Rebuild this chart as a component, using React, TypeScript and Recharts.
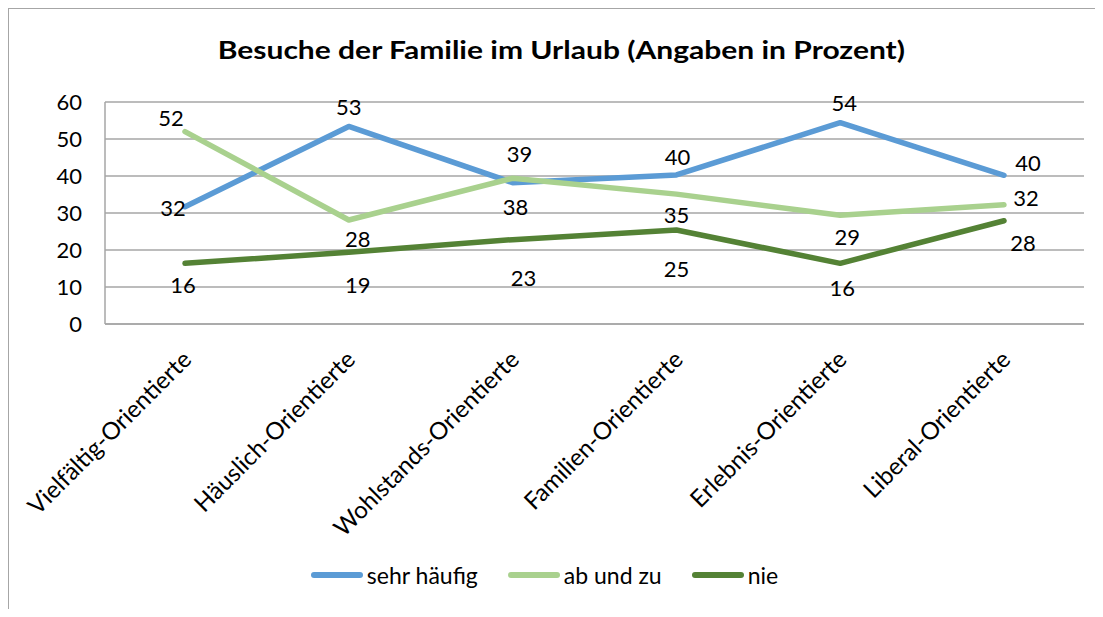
import { CartesianGrid, LabelList, Line, LineChart, XAxis, YAxis } from "recharts";

const categories = [
  "Vielfältig-Orientierte",
  "Häuslich-Orientierte",
  "Wohlstands-Orientierte",
  "Familien-Orientierte",
  "Erlebnis-Orientierte",
  "Liberal-Orientierte",
];
const sehrHaeufig = [31.7, 53.4, 38.2, 40.3, 54.4, 40.2];
const abUndZu = [52, 28.1, 39.4, 35.1, 29.4, 32.2];
const nie = [16.4, 19.4, 22.8, 25.4, 16.4, 27.9];
const yTicks = [0, 10, 20, 30, 40, 50, 60];

const COLORS = {
  sehr: "#5B9BD5",
  ab: "#A9D18E",
  nie: "#548235",
  grid: "#a6a6a6",
};
const FONT = "Lato, 'Open Sans', sans-serif";

// label offsets (dx, dy) from each point, placed like the Excel original
const labelOffsets = {
  sehr: [[-12, 1], [0, -20], [3, 24], [1, -18], [4, -20], [24, -13]],
  ab: [[-14, -14], [9, 18], [7, -25], [0, 20], [7, 21], [22, -7]],
  nie: [[-2, 21], [9, 32], [11, 38], [0, 38], [2, 24], [19, 22]],
};

const data = categories.map((name, i) => ({
  name,
  sehr: sehrHaeufig[i],
  ab: abUndZu[i],
  nie: nie[i],
}));

const series = [
  { key: "sehr", label: "sehr häufig", color: COLORS.sehr },
  { key: "ab", label: "ab und zu", color: COLORS.ab },
  { key: "nie", label: "nie", color: COLORS.nie },
] as const;

const makeLabel = (offsets: number[][]) => (props: any) => {
  const { x, y, value, index } = props;
  const [dx, dy] = offsets[index] ?? [0, -18];
  return (
    <text
      x={Number(x) + dx}
      y={Number(y) + dy}
      textAnchor="middle"
      dominantBaseline="central"
      fontFamily={FONT}
      fontSize={22}
      fill="#000"
    >
      {Math.round(Number(value))}
    </text>
  );
};

const AngledTick = (props: any) => {
  const { x, y, payload } = props;
  const tx = x + 8;
  const ty = y + 35;
  return (
    <text
      x={tx}
      y={ty}
      transform={`rotate(-45 ${tx} ${ty})`}
      textAnchor="end"
      fontFamily={FONT}
      fontSize={24}
      fill="#000"
    >
      {payload.value}
    </text>
  );
};

export default function App() {
  return (
    <div
      style={{
        position: "relative",
        width: 1086,
        height: 600,
        borderLeft: `1px solid ${COLORS.grid}`,
        borderTop: `1px solid ${COLORS.grid}`,
        background: "#fff",
        fontFamily: FONT,
        overflow: "hidden",
      }}
    >
      <div
        style={{
          position: "absolute",
          left: 0,
          top: 25,
          width: 1086,
          paddingLeft: 18,
          boxSizing: "border-box",
          textAlign: "center",
          fontWeight: 700,
          fontSize: 25,
          lineHeight: 1.2,
          color: "#000",
        }}
      >
        <span style={{ display: "inline-block", transform: "scaleX(1.2)" }}>
          Besuche der Familie im Urlaub (Angaben in Prozent)
        </span>
      </div>

      <LineChart
        width={1086}
        height={600}
        data={data}
        margin={{ top: 93, right: 11, left: 0, bottom: 0 }}
      >
        <CartesianGrid vertical={false} stroke={COLORS.grid} strokeWidth={1.5} />
        <XAxis
          dataKey="name"
          height={285}
          padding={{ left: 80, right: 80 }}
          axisLine={{ stroke: COLORS.grid, strokeWidth: 1.5 }}
          tickLine={false}
          tickSize={0}
          interval={0}
          tick={<AngledTick />}
        />
        <YAxis
          width={96}
          domain={[0, 60]}
          ticks={yTicks}
          axisLine={{ stroke: COLORS.grid, strokeWidth: 1.5 }}
          tickLine={false}
          tickSize={0}
          tickMargin={23}
          tick={{ fill: "#000", fontSize: 22, fontFamily: FONT }}
        />
        {series.map((s) => (
          <Line
            key={s.key}
            dataKey={s.key}
            name={s.label}
            stroke={s.color}
            strokeWidth={5.5}
            strokeLinecap="round"
            strokeLinejoin="round"
            dot={false}
            activeDot={false}
            isAnimationActive={false}
          >
            <LabelList dataKey={s.key} content={makeLabel(labelOffsets[s.key])} />
          </Line>
        ))}
      </LineChart>

      {/* Legend */}
      <div
        style={{
          position: "absolute",
          left: 0,
          top: 552,
          width: 1071,
          display: "flex",
          justifyContent: "center",
          alignItems: "center",
          gap: 30,
          fontSize: 23,
          color: "#000",
        }}
      >
        {series.map((s) => (
          <div key={s.key} style={{ display: "flex", alignItems: "center", gap: 4 }}>
            <span
              style={{
                display: "inline-block",
                width: 52,
                height: 6,
                borderRadius: 3,
                background: s.color,
              }}
            />
            <span>{s.label}</span>
          </div>
        ))}
      </div>
    </div>
  );
}
